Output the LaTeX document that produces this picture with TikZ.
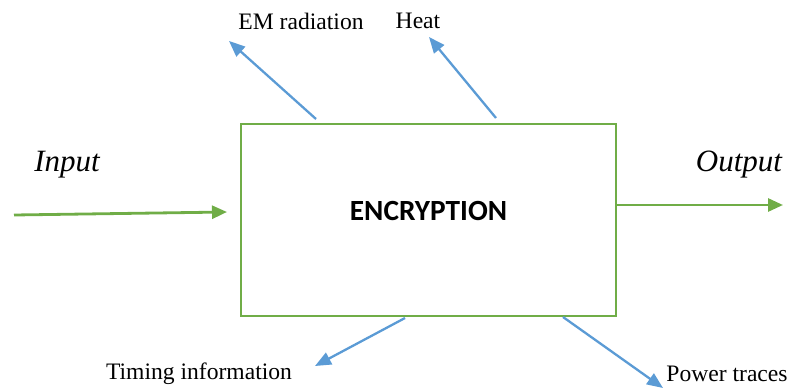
\documentclass[tikz,border=0pt]{standalone}
\usepackage{fontspec}
\setmainfont{Liberation Serif}
\newfontfamily\boxfont{Carlito}
\usetikzlibrary{arrows.meta}
\definecolor{boxgreen}{HTML}{70AD47}
\definecolor{leakblue}{HTML}{5B9BD5}
\tikzset{
  mainbox/.style={draw=boxgreen, line width=2.8pt, minimum width=375pt, minimum height=192pt, inner sep=0pt},
  flow/.style={draw=boxgreen, line width=2.8pt, -{Triangle[length=15pt,width=13pt]}},
  leak/.style={draw=leakblue, line width=2.3pt, -{Triangle[length=16pt,width=13pt]}},
  lbl/.style={font=\fontsize{23.6}{26}\selectfont, inner sep=0pt},
  iolbl/.style={font=\fontsize{31}{34}\selectfont\itshape, inner sep=0pt},
}
\begin{document}
\begin{tikzpicture}[x=1pt,y=-1pt]
\useasboundingbox (0,0) rectangle (790,388);
\node[mainbox] (box) at (428.5,220) {};
\node[font=\boxfont\bfseries\fontsize{29.3}{32}\selectfont, inner sep=0pt] (enc) at (428.5,211) {ENCRYPTION};
\node[iolbl] (inlbl) at (67,165) {Input};
\node[iolbl] (outlbl) at (739,165) {Output};
\node[lbl] (em) at (301,21) {EM radiation};
\node[lbl] (heat) at (418,21) {Heat};
\node[lbl] (timing) at (199,374) {Timing information};
\node[lbl] (power) at (727,374) {Power traces};
\coordinate (inS) at (14,215);
\coordinate (inE) at (227,212);
\coordinate (outS) at (616,205);
\coordinate (outE) at (783,205);
\coordinate (emS) at (316,119);
\coordinate (emE) at (229,41);
\coordinate (heatS) at (496,118);
\coordinate (heatE) at (429,37);
\coordinate (timS) at (405,318);
\coordinate (timE) at (315,366);
\coordinate (powS) at (563,317);
\coordinate (powE) at (663,388);
\draw[flow] (inS) -- (inE);
\draw[flow] (outS) -- (outE);
\draw[leak] (emS) -- (emE);
\draw[leak] (heatS) -- (heatE);
\draw[leak] (timS) -- (timE);
\draw[leak] (powS) -- (powE);
\end{tikzpicture}
\end{document}
